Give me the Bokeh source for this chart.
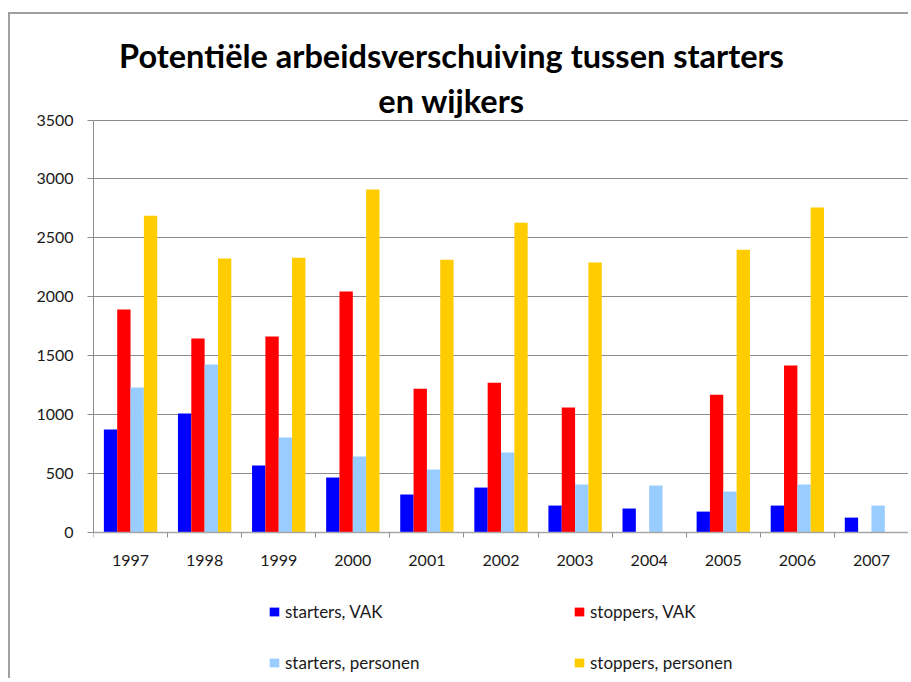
import numpy as np
from bokeh.plotting import figure
from bokeh.models import FixedTicker, Legend, LegendItem, Label, Range1d, ColumnDataSource
from bokeh.embed import file_html
from bokeh.resources import INLINE

years = ["1997", "1998", "1999", "2000", "2001", "2002", "2003", "2004", "2005", "2006", "2007"]
starters_vak = [871, 1007, 566, 464, 320, 379, 226, 201, 175, 226, 124]
stoppers_vak = [1890, 1644, 1661, 2043, 1219, 1270, 1058, np.nan, 1168, 1415, np.nan]
starters_personen = [1228, 1423, 804, 642, 532, 676, 405, 396, 345, 405, 226]
stoppers_personen = [2688, 2323, 2331, 2909, 2314, 2628, 2289, np.nan, 2399, 2756, np.nan]
y_ticks = [0, 500, 1000, 1500, 2000, 2500, 3000, 3500]

series = [
    ("starters, VAK", starters_vak, "#0000FF", -0.27),
    ("stoppers, VAK", stoppers_vak, "#FF0000", -0.09),
    ("starters, personen", starters_personen, "#99CCFF", 0.09),
    ("stoppers, personen", stoppers_personen, "#FFCC00", 0.27),
]

# layout (pixels): the value axis runs from y=119.5 (3500) to y=531.7 (0) on the page;
# the frame fills the whole canvas height so the title and legend can live inside it.
CANVAS_TOP, CANVAS_H = 14, 666
AX_TOP, AX_BOTTOM, AX_MAX = 119.5, 531.7, 3500.0
ppu = (AX_BOTTOM - AX_TOP) / AX_MAX
y_hi = AX_MAX + (AX_TOP - CANVAS_TOP) / ppu
y_lo = -((CANVAS_TOP + CANVAS_H) - AX_BOTTOM) / ppu

p = figure(width=900, height=CANVAS_H, x_range=Range1d(0, 11), y_range=Range1d(y_lo, y_hi),
           output_backend="svg", toolbar_location=None,
           min_border_left=83, min_border_right=2, min_border_top=0, min_border_bottom=0)
p.styles = {"border-left": "2px solid #a0a0a0", "border-top": "2px solid #a0a0a0",
            "margin-top": "12px", "margin-left": "8px"}
p.outline_line_color = None
p.background_fill_color = "white"
p.border_fill_color = "white"

centers = np.arange(len(years)) + 0.5
renderers = {}
for name, vals, color, off in series:
    src = ColumnDataSource(dict(x=centers + off, top=np.array(vals, dtype=float)))
    renderers[name] = p.vbar(x="x", top="top", bottom=0, width=0.18, source=src,
                             fill_color=color, line_color=None)

# y axis
p.yaxis.ticker = FixedTicker(ticks=y_ticks)
p.yaxis.bounds = (0, 3500)
p.yaxis.axis_line_color = "#8c8c8c"
p.yaxis.major_tick_line_color = "#8c8c8c"
p.yaxis.major_tick_out = 6
p.yaxis.major_tick_in = 0
p.yaxis.minor_tick_line_color = None
p.yaxis.major_label_text_font = "Lato"
p.yaxis.major_label_text_font_size = "16px"
p.yaxis.major_label_text_color = "#1a1a1a"
p.yaxis.major_label_standoff = 14

# x axis, pinned at value 0
p.xaxis.fixed_location = 0
p.xaxis.ticker = FixedTicker(ticks=list(centers), minor_ticks=list(range(len(years) + 1)))
p.xaxis.major_label_overrides = {float(c): y for c, y in zip(centers, years)}
p.xaxis.axis_line_color = "#a6a6a6"
p.xaxis.axis_line_width = 1.5
p.xaxis.major_tick_line_color = None
p.xaxis.minor_tick_line_color = "#8c8c8c"
p.xaxis.minor_tick_out = 5
p.xaxis.minor_tick_in = 0
p.xaxis.major_label_text_font = "Lato"
p.xaxis.major_label_text_font_size = "16px"
p.xaxis.major_label_text_color = "#1a1a1a"
p.xaxis.major_label_standoff = 17

p.xgrid.grid_line_color = None
p.ygrid.grid_line_color = "#8c8c8c"
p.ygrid.grid_line_width = 1

# title (screen units are measured from the frame's bottom-left corner)
for txt, y in [("Potentiële arbeidsverschuiving tussen starters", 625), ("en wijkers", 580)]:
    p.add_layout(Label(x=358, y=y, x_units="screen", y_units="screen", text=txt,
                       text_font="Lato", text_font_style="bold", text_font_size="32.5px",
                       text_align="center", text_baseline="alphabetic", text_color="black"))

# legend: filled column by column -> left column starters, right column stoppers
order = ["starters, VAK", "starters, personen", "stoppers, VAK", "stoppers, personen"]
items = [LegendItem(label=n, renderers=[renderers[n]]) for n in order]
legend = Legend(items=items, ncols=2, location=(175, 2),
                glyph_width=12, glyph_height=11, label_standoff=5,
                label_width=268, label_height=31, spacing=20, padding=0, margin=0,
                label_text_font="Lato", label_text_font_size="17px", label_text_color="#1a1a1a",
                border_line_color=None, background_fill_alpha=0)
p.add_layout(legend)

open("out.html", "w").write(file_html(p, INLINE))
